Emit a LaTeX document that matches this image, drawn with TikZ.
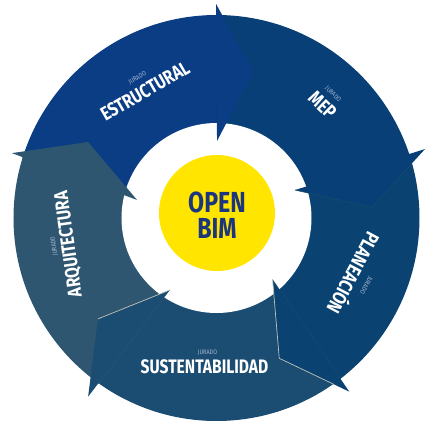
\documentclass[tikz,border=0pt]{standalone}
\usepackage{fontspec}
\usepackage{graphicx}
\usetikzlibrary{calc}
\newfontfamily\labfont{Fira Sans}[FakeStretch=0.8]
\newfontfamily\jurfont{Fira Sans}[FakeStretch=0.85]
\definecolor{cE}{RGB}{11,61,133}
\definecolor{cM}{RGB}{8,63,119}
\definecolor{cP}{RGB}{10,67,114}
\definecolor{cS}{RGB}{27,76,114}
\definecolor{cA}{RGB}{46,86,112}
\definecolor{byel}{RGB}{255,229,0}
\definecolor{bimtxt}{RGB}{28,54,126}
\definecolor{jur}{RGB}{165,182,208}
\definecolor{seam}{RGB}{192,197,186}
\definecolor{mseam}{RGB}{24,74,108}
\begin{document}
\begin{tikzpicture}[x=1pt,y=1pt,
  word/.style={text=white, font=\labfont\bfseries\fontsize{19.5}{19.5}\selectfont, inner sep=0pt, anchor=center},
  jurado/.style={text=jur, font=\jurfont\fontsize{6.5}{6.5}\selectfont, inner sep=0pt, anchor=center},
  body/.style={fill=#1, draw=#1, line width=1pt, line join=round},
  head/.style={fill=#1},
]
\useasboundingbox (-216.5,-216) rectangle (217.5,218);
\def\Ro{203}
\def\Ri{95}
\coordinate (C) at (0,0);
% arrow heads: outer barb, tip, inner barb
\coordinate (Eob) at (90.1:214);   \coordinate (Etip) at (76:150.5);    \coordinate (Eib) at (89.6:77);
\coordinate (Mob) at (18.3:219.6); \coordinate (Mtip) at (4:155.9);     \coordinate (Mib) at (19.6:83.3);
\coordinate (Pob) at (-52.6:218.6);\coordinate (Ptip) at (-65.9:153.7); \coordinate (Pib) at (-47.5:83);
\coordinate (Sob) at (-125.7:220); \coordinate (Stip) at (-139.6:155.7);\coordinate (Sib) at (-122.9:85.7);
\coordinate (Aob) at (162.4:214.6);\coordinate (Atip) at (149.4:149.3); \coordinate (Aib) at (167.2:81.5);
\coordinate (Eext) at ($(Eib)!1.6!(Eob)$);
\coordinate (Mext) at ($(Mib)!1.6!(Mob)$);
\coordinate (Pext) at ($(Pib)!1.6!(Pob)$);
\coordinate (Sext) at ($(Sib)!1.6!(Sob)$);
\coordinate (Aext) at ($(Aib)!1.6!(Aob)$);
% bodies
\begin{scope}
\clip (C) circle (\Ro);
\path[body=cE] (C) -- (Aib) -- (Aext) -- (140:300) -- (115:300) -- (Eext) -- (Eib) -- cycle;
\path[body=cM] (C) -- (Eib) -- (Eext) -- (65:300) -- (40:300) -- (Mext) -- (Mib) -- cycle;
\path[body=cP] (C) -- (Mib) -- (Mext) -- (-5:300) -- (-28:300) -- (Pext) -- (Pib) -- cycle;
\path[body=cS] (C) -- (Pib) -- (Pext) -- (-75:300) -- (-100:300) -- (Sext) -- (Sib) -- cycle;
\path[body=cA] (C) -- (Sib) -- (Sext) -- (-150:300) -- (-175:300) -- (Aext) -- (Aib) -- cycle;
\end{scope}
\fill[white] (C) circle (\Ri);
% heads
\fill[head=cE] (Eob) -- (Etip) -- (Eib) -- cycle;
\fill[head=cM] (Mob) -- (Mtip) -- (Mib) -- cycle;
\fill[head=cP] (Pob) -- (Ptip) -- (Pib) -- cycle;
\fill[head=cS] (Sob) -- (Stip) -- (Sib) -- cycle;
\fill[head=cA] (Aob) -- (Atip) -- (Aib) -- cycle;
% seams
\begin{scope}
\clip (C) circle (\Ro);
\draw[mseam, line width=0.6pt] (Mib) -- (Mtip) -- (Mob);
\draw[seam, line width=0.7pt] (Pib) -- (Ptip) -- (Pob);
\draw[seam, line width=0.7pt] (Stip) -- (Sib);
\end{scope}
% centre
\fill[byel] (0.5,5) circle (58);
\node[text=bimtxt, font=\labfont\bfseries\fontsize{29}{26}\selectfont, align=center, inner sep=0pt] (bim) at (0.5,3) {OPEN\\BIM};
% labels
\node[word, rotate=30] (westr) at (119.4:145.7) {ESTRUCTURAL};
\node[jurado, rotate=30] (jestr) at ($(119.4:145.7)+(120:15)$) {JURADO};
\node[word, rotate=-44] (wmep) at (46.8:155) {MEP};
\node[jurado, rotate=-44] (jmep) at ($(46.8:155)+(46:15)$) {JURADO};
\node[word, rotate=-118] (wplan) at (-22:149.4) {PLANEACIÓN};
\node[jurado, rotate=-118] (jplan) at ($(-22:149.4)+(-28:15)+(-118:5)$) {JURADO};
\node[word] (wsust) at (-12,-149) {SUSTENTABILIDAD};
\node[jurado] (jsust) at (-9,-135) {JURADO};
\node[word, rotate=98] (warq) at (-147.5,-26) {ARQUITECTURA};
\node[jurado, rotate=98] (jarq) at ($(-147.5,-26)+(188:15)$) {JURADO};
\end{tikzpicture}
\end{document}
